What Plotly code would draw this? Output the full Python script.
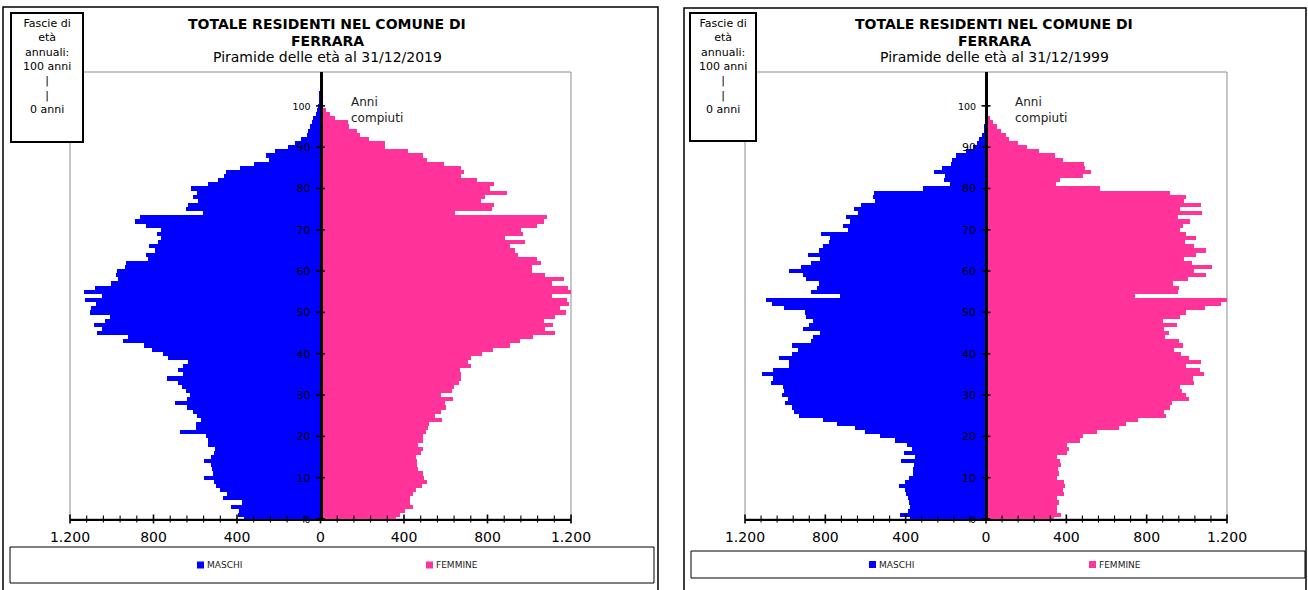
import numpy as np
import plotly.graph_objects as go

# ---------------- data ----------------
AGES = list(range(104))

M2019 = [366, 395, 390, 428, 374, 467, 449, 480, 500, 509,
         560, 517, 520, 525, 560, 523, 512, 504, 541, 541,
         549, 672, 598, 598, 573, 593, 612, 640, 697, 640,
         624, 642, 663, 685, 734, 658, 685, 658, 635, 731,
         755, 808, 844, 946, 920, 1071, 1047, 1087, 1030, 1009,
         1103, 1098, 1074, 1126, 1045, 1132, 1082, 1006, 970, 980,
         977, 938, 932, 828, 834, 794, 821, 778, 763, 782,
         763, 834, 889, 865, 561, 646, 633, 586, 612, 591,
         620, 541, 492, 460, 455, 384, 318, 246, 261, 217,
         154, 120, 94, 66, 58, 50, 40, 34, 23, 15,
         10, 8, 4, 6]

F2019 = [363, 379, 403, 444, 428, 431, 441, 457, 484, 509,
         497, 492, 465, 460, 460, 457, 481, 489, 468, 489,
         492, 505, 514, 522, 582, 549, 578, 603, 598, 633,
         578, 630, 638, 663, 671, 671, 666, 719, 706, 719,
         776, 828, 906, 957, 1019, 1124, 1077, 1113, 1071, 1121,
         1176, 1145, 1190, 1180, 1111, 1202, 1186, 1111, 1166, 1076,
         1014, 1014, 1055, 1035, 944, 930, 906, 982, 886, 972,
         962, 1037, 1072, 1085, 646, 820, 829, 770, 786, 894,
         812, 829, 752, 674, 689, 671, 590, 509, 489, 421,
         309, 309, 233, 190, 173, 136, 131, 71, 47, 24,
         13, 8, 2, 0]

M1999 = [376, 430, 388, 376, 385, 388, 396, 401, 435, 401,
         385, 364, 363, 359, 424, 356, 410, 368, 393, 452,
         528, 601, 652, 744, 813, 930, 955, 964, 1000, 986,
         1015, 1008, 1011, 1070, 1062, 1116, 1062, 980, 980, 1030,
         964, 938, 964, 869, 862, 827, 913, 881, 859, 895,
         901, 1006, 1067, 1093, 727, 869, 842, 833, 896, 913,
         979, 923, 869, 828, 888, 830, 813, 783, 778, 823,
         689, 711, 677, 698, 635, 656, 620, 552, 565, 559,
         315, 178, 211, 206, 257, 218, 173, 168, 147, 100,
         63, 46, 37, 20, 12, 8, 5, 5, 3, 3,
         3, 0, 0, 0]

F1999 = [339, 373, 352, 352, 364, 352, 390, 383, 395, 386,
         352, 364, 360, 374, 366, 352, 403, 412, 403, 468,
         484, 552, 661, 695, 759, 898, 886, 915, 928, 1010,
         996, 976, 967, 1038, 1033, 1084, 1067, 996, 1072, 1013,
         972, 937, 979, 962, 891, 911, 886, 949, 881, 966,
         996, 1089, 1171, 1211, 742, 954, 962, 933, 1008, 1093,
         1038, 1127, 1027, 984, 1047, 1094, 1035, 991, 1047, 996,
         967, 983, 1016, 954, 1077, 967, 1072, 984, 996, 916,
         569, 347, 366, 483, 525, 493, 488, 383, 346, 264,
         203, 158, 115, 98, 76, 56, 34, 22, 10, 5,
         2, 0, 0, 0]

X_TICK_VALUES = [-1200, -800, -400, 0, 400, 800, 1200]
X_TICK_TEXT = ["1.200", "800", "400", "0", "400", "800", "1.200"]
Y_TICK_VALUES = [0, 10, 20, 30, 40, 50, 60, 70, 80, 90, 100]
Y_TICK_TEXT = ["0", "10", "20", "30", "40", "50", "60", "70", "80", "90", "100"]

TITLE_1 = "TOTALE RESIDENTI NEL COMUNE DI"
TITLE_2 = "FERRARA"
SUBTITLES = ["Piramide delle età al 31/12/2019", "Piramide delle età al 31/12/1999"]
BOX_LINES = ["Fascie di", "età", "annuali:", "100 anni", "|", "|", "0 anni"]
AGE_NOTE = ["Anni", "compiuti"]
SERIES = ["MASCHI", "FEMMINE"]

# ---------------- layout / style ----------------
W, H = 1308, 590
BLUE = "#0000FF"
PINK = "#FF3399"
FONT = "DejaVu Sans"
XMAX = 1200
YMAX = 108.2
MINOR_STEP = 80
MAJOR_STEP = 400

PANELS = [
    dict(males=M2019, females=F2019, subtitle=SUBTITLES[0],
         plot=(70, 571, 72, 519), frame=(3, 7, 658, 600), box=(11, 13, 83, 142),
         box_x=47, title_x=327, note_x=349, legend=(10, 547, 654, 583),
         leg_m=197, leg_f=426),
    dict(males=M1999, females=F1999, subtitle=SUBTITLES[1],
         plot=(745, 1227, 72, 519), frame=(684, 8, 1306, 600), box=(690, 13, 756, 141),
         box_x=723, title_x=994, note_x=1013, legend=(691, 551, 1305, 578),
         leg_m=869, leg_f=1089),
]


def px(x):
    return x / W


def py(y):
    return 1 - y / H


fig = go.Figure()
shapes = []
annotations = []
layout_axes = {}

for i, p in enumerate(PANELS):
    sfx = "" if i == 0 else str(i + 1)
    xa, ya = "x" + sfx, "y" + sfx
    L, R, T, B = p["plot"]
    cx = (L + R) / 2

    fig.add_trace(go.Bar(y=AGES, x=[-v for v in p["males"]], orientation="h",
                         marker=dict(color=BLUE, line=dict(width=0)),
                         name=SERIES[0], showlegend=False, xaxis=xa, yaxis=ya))
    fig.add_trace(go.Bar(y=AGES, x=p["females"], orientation="h",
                         marker=dict(color=PINK, line=dict(width=0)),
                         name=SERIES[1], showlegend=False, xaxis=xa, yaxis=ya))

    ytext = []
    for v, t in zip(Y_TICK_VALUES, Y_TICK_TEXT):
        if v in (0, 100):
            ytext.append(f"<span style='font-size:9.5px'>{t}</span>")
        else:
            ytext.append(t)

    layout_axes["xaxis" + sfx] = dict(
        domain=[px(L), px(R)], range=[-XMAX, XMAX], anchor=ya, automargin=False,
        tickvals=X_TICK_VALUES, ticktext=X_TICK_TEXT, ticks="",
        showline=True, linecolor="black", linewidth=2,
        showgrid=False, zeroline=False, fixedrange=True,
        tickfont=dict(family=FONT, size=14, color="black"),
        ticklabelstandoff=4, layer="above traces")
    layout_axes["yaxis" + sfx] = dict(
        domain=[py(B), py(T)], range=[0, YMAX], anchor="free", position=px(cx),
        automargin=False,
        tickvals=Y_TICK_VALUES, ticktext=ytext, ticks="",
        showline=True, linecolor="black", linewidth=2.5,
        showgrid=False, zeroline=False, fixedrange=True,
        tickfont=dict(family=FONT, size=11, color="black"),
        ticklabelstandoff=7, layer="above traces")

    # plot area border
    shapes.append(dict(type="rect", xref="paper", yref="paper",
                       x0=px(L), x1=px(R), y0=py(B), y1=py(T),
                       line=dict(color="#8c8c8c", width=1), layer="below"))
    # chart outer frame
    fx0, fy0, fx1, fy1 = p["frame"]
    shapes.append(dict(type="rect", xref="paper", yref="paper",
                       x0=px(fx0), x1=px(fx1), y0=py(fy1), y1=py(fy0),
                       line=dict(color="black", width=1.5)))
    # text box
    bx0, by0, bx1, by1 = p["box"]
    shapes.append(dict(type="rect", xref="paper", yref="paper",
                       x0=px(bx0), x1=px(bx1), y0=py(by1), y1=py(by0),
                       line=dict(color="black", width=2), fillcolor="white"))
    # crossing tick marks on x axis
    for v in np.arange(-XMAX, XMAX + 1, MINOR_STEP):
        xx = L + (v + XMAX) / (2 * XMAX) * (R - L)
        major = (v % MAJOR_STEP == 0)
        hl = 4.5 if major else 3.5
        shapes.append(dict(type="line", xref="paper", yref="paper",
                           x0=px(xx), x1=px(xx), y0=py(B + hl), y1=py(B - hl),
                           line=dict(color="black", width=1.6 if major else 1.1)))
    # crossing tick marks on y axis
    for v in Y_TICK_VALUES:
        yy = B - v / YMAX * (B - T)
        shapes.append(dict(type="line", xref="paper", yref="paper",
                           x0=px(cx - 4.5), x1=px(cx + 4.5), y0=py(yy), y1=py(yy),
                           line=dict(color="black", width=1.6)))
    # legend box
    lx0, ly0, lx1, ly1 = p["legend"]
    shapes.append(dict(type="rect", xref="paper", yref="paper",
                       x0=px(lx0), x1=px(lx1), y0=py(ly1), y1=py(ly0),
                       line=dict(color="black", width=1)))
    lyc = (ly0 + ly1) / 2
    for sx, col, name in ((p["leg_m"], BLUE, SERIES[0]), (p["leg_f"], PINK, SERIES[1])):
        shapes.append(dict(type="rect", xref="paper", yref="paper",
                           x0=px(sx), x1=px(sx + 7), y0=py(lyc + 3.5), y1=py(lyc - 3.5),
                           line=dict(width=0), fillcolor=col))
        annotations.append(dict(text=name, xref="paper", yref="paper",
                                x=px(sx + 7.5), y=py(lyc), xanchor="left", yanchor="middle",
                                showarrow=False,
                                font=dict(family=FONT, size=9, color="#222222")))

    # titles
    annotations.append(dict(text=f"<b>{TITLE_1}</b>", xref="paper", yref="paper",
                            x=px(p["title_x"]), y=py(24), xanchor="center", yanchor="middle",
                            showarrow=False, font=dict(family=FONT, size=14, color="black")))
    annotations.append(dict(text=f"<b>{TITLE_2}</b>", xref="paper", yref="paper",
                            x=px(p["title_x"]), y=py(41), xanchor="center", yanchor="middle",
                            showarrow=False, font=dict(family=FONT, size=14, color="black")))
    annotations.append(dict(text=p["subtitle"], xref="paper", yref="paper",
                            x=px(p["title_x"]), y=py(57), xanchor="center", yanchor="middle",
                            showarrow=False, font=dict(family=FONT, size=14, color="black")))
    # text box content
    annotations.append(dict(text="<br>".join(BOX_LINES), xref="paper", yref="paper",
                            x=px(p["box_x"]), y=py(66), xanchor="center", yanchor="middle",
                            align="center", showarrow=False,
                            font=dict(family=FONT, size=11, color="black")))
    # age note
    annotations.append(dict(text="<br>".join(AGE_NOTE), xref="paper", yref="paper",
                            x=px(p["note_x"]), y=py(109.5), xanchor="left", yanchor="middle",
                            align="left", showarrow=False,
                            font=dict(family=FONT, size=12, color="#222222")))

fig.update_layout(
    width=W, height=H, autosize=False,
    margin=dict(l=0, r=0, t=0, b=0, pad=0, autoexpand=False),
    paper_bgcolor="white", plot_bgcolor="white",
    barmode="overlay", bargap=0,
    showlegend=False,
    shapes=shapes, annotations=annotations,
    font=dict(family=FONT, color="black"),
    **layout_axes,
)

fig.write_html("out.html")
